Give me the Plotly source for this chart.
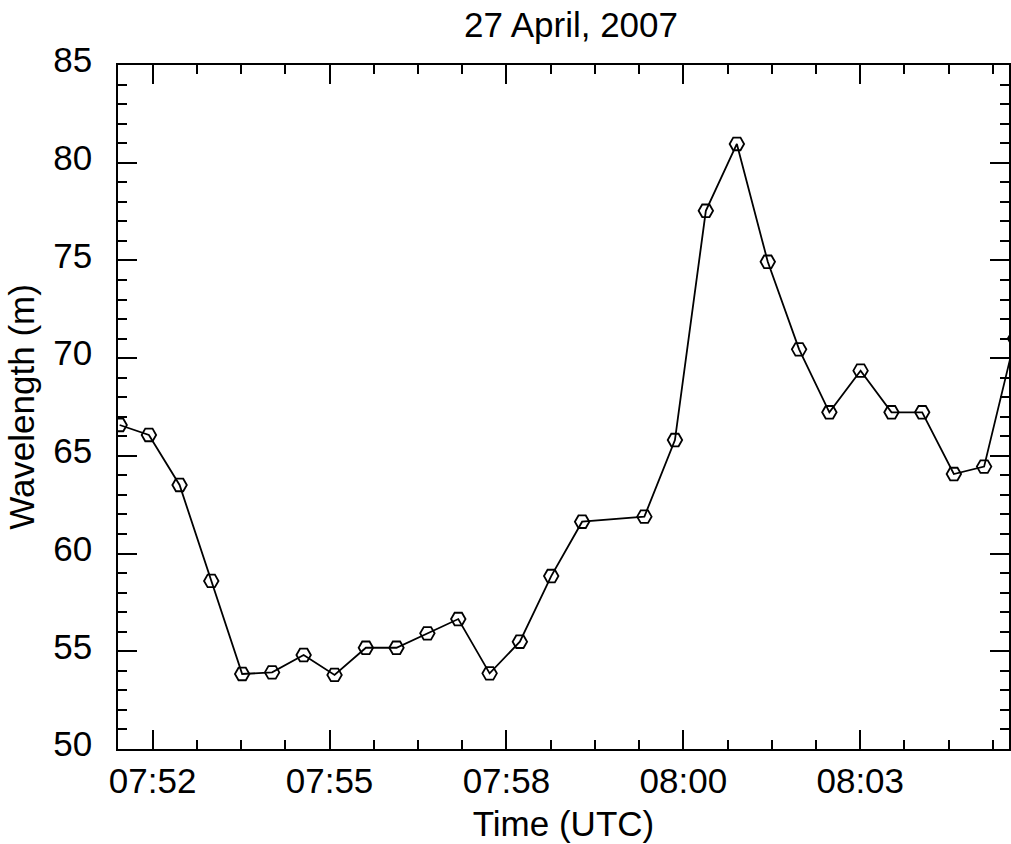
import plotly.graph_objects as go

# Sample times, seconds after 07:50:00 UTC
time_s = [101.8, 128.6, 156.7, 185.7, 214.0, 241.4, 270.3, 298.6, 327.3, 355.3,
          383.6, 411.9, 440.6, 468.3, 497.0, 525.3, 582.3, 610.3, 638.6, 667.0,
          695.3, 724.0, 751.7, 780.3, 808.6, 836.7, 865.7, 893.4, 921.7]

# Wavelength (m)
wavelength = [66.58, 66.07, 63.51, 58.60, 53.84, 53.92, 54.81, 53.79, 55.18, 55.18,
              55.92, 56.65, 53.87, 55.49, 58.85, 61.63, 61.89, 65.81, 77.54, 80.96,
              74.93, 70.45, 67.23, 69.36, 67.23, 67.23, 64.07, 64.45, 71.0]

# Major time ticks (seconds after 07:50:00) and their labels
x_tick_vals = [132, 294, 456, 618, 780]
x_tick_text = ["07:52", "07:55", "07:58", "08:00", "08:03"]

FONT = "Liberation Sans, Arial, Helvetica, sans-serif"
FS = 35

fig = go.Figure()
fig.add_trace(go.Scatter(
    x=time_s, y=wavelength,
    mode="lines+markers",
    line=dict(color="black", width=1.8),
    marker=dict(symbol="hexagon2-open", size=14.5, color="black",
                line=dict(color="black", width=1.8)),
    showlegend=False,
))

axis_common = dict(
    showline=True, linecolor="black", linewidth=1.5, mirror="allticks",
    ticks="inside", ticklen=19, tickwidth=1.5, tickcolor="black",
    showgrid=False, zeroline=False,
    tickfont=dict(family=FONT, size=FS, color="black"),
)

fig.update_layout(
    width=1011, height=844,
    margin=dict(l=118, r=0, t=65, b=95),
    paper_bgcolor="white", plot_bgcolor="white",
    font=dict(family=FONT, size=FS, color="black"),
    title=dict(text="27 April, 2007", x=0.5648, xanchor="center",
               y=1 - 25 / 844, yref="container", yanchor="middle",
               font=dict(family=FONT, size=FS, color="black")),
    xaxis=dict(
        range=[100.3, 916.2],
        tickmode="array", tickvals=x_tick_vals, ticktext=x_tick_text,
        minor=dict(tickmode="linear", tick0=132, dtick=40.5, ticks="inside",
                   ticklen=9, tickwidth=1.5, tickcolor="black"),
        title=dict(text="Time (UTC)", standoff=13,
                   font=dict(family=FONT, size=FS, color="black")),
        **axis_common,
    ),
    yaxis=dict(
        range=[50, 85], tickmode="linear", tick0=50, dtick=5,
        minor=dict(tickmode="linear", tick0=50, dtick=1, ticks="inside",
                   ticklen=9, tickwidth=1.5, tickcolor="black"),
        title=dict(text="Wavelength (m)", standoff=8,
                   font=dict(family=FONT, size=FS, color="black")),
        ticklabelstandoff=17, ticklabelshift=-5,
        **axis_common,
    ),
)

fig.write_html("out.html")
